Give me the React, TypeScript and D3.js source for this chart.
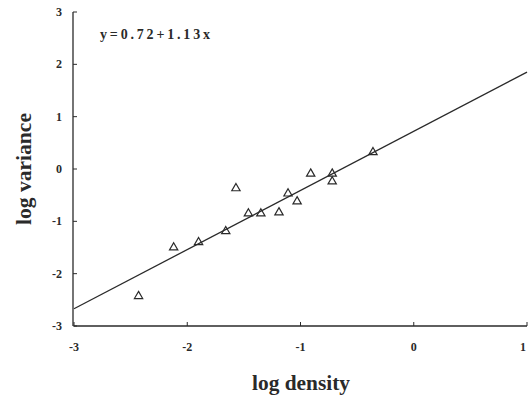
import React from "react";
import * as d3 from "d3";

const logDensity = [-2.43, -2.12, -1.9, -1.66, -1.57, -1.46, -1.35, -1.19, -1.11, -1.03, -0.91, -0.72, -0.72, -0.36];
const logVariance = [-2.43, -1.5, -1.4, -1.19, -0.37, -0.85, -0.85, -0.83, -0.47, -0.62, -0.09, -0.09, -0.24, 0.32];
const xTicks = [-3, -2, -1, 0, 1];
const yTicks = [-3, -2, -1, 0, 1, 2, 3];
const intercept = 0.72;
const slope = 1.13;
const equation = "y=0.72+1.13x";

export default function App() {
  const W = 528, H = 399;
  const x = d3.scaleLinear().domain([-3, 1]).range([74, 527]);
  const y = d3.scaleLinear().domain([-3, 3]).range([326, 12]);
  const ink = "#2a2a2a";
  const line = d3.line<number>().x((d) => x(d)).y((d) => y(intercept + slope * d));
  const tri = d3.symbol().type(d3.symbolTriangle).size(30)();
  const serif = "'Liberation Serif', 'DejaVu Serif', serif";
  return (
    <svg width={W} height={H} style={{ position: "absolute", left: 0, top: 0, background: "#fff" }}>
      {/* axes */}
      <line x1={x(-3)} x2={x(1)} y1={y(-3)} y2={y(-3)} stroke={ink} strokeWidth={1.3} />
      <line x1={x(-3) - 1} x2={x(-3) - 1} y1={y(-3)} y2={y(3)} stroke={ink} strokeWidth={1.3} />
      {xTicks.map((t) => (
        <g key={"x" + t}>
          <line x1={x(t)} x2={x(t)} y1={y(-3)} y2={y(-3) - 4} stroke={ink} strokeWidth={1} />
          <text x={Math.min(x(t), W - 5)} y={y(-3) + 25} textAnchor="middle" fontFamily={serif} fontWeight="bold" fontSize={12} fill={ink}>
            {t}
          </text>
        </g>
      ))}
      {yTicks.map((t) => (
        <g key={"y" + t}>
          <line x1={x(-3) - 1} x2={x(-3) + 3} y1={y(t)} y2={y(t)} stroke={ink} strokeWidth={1} />
          <text x={x(-3) - 12} y={y(t) + 4} textAnchor="end" fontFamily={serif} fontWeight="bold" fontSize={12} fill={ink}>
            {t}
          </text>
        </g>
      ))}
      {/* regression line */}
      <path d={line([-3, 1]) || ""} fill="none" stroke={ink} strokeWidth={1.3} />
      {/* points */}
      {logDensity.map((d, i) => (
        <path key={i} d={tri || ""} transform={`translate(${x(d)},${y(logVariance[i])})`} fill="none" stroke={ink} strokeWidth={1.2} />
      ))}
      <text x={100} y={39} fontFamily={serif} fontWeight="bold" fontSize={14} fill={ink} textLength={110} lengthAdjust="spacing">
        {equation}
      </text>
      <text x={252} y={390} fontFamily={serif} fontWeight="bold" fontSize={21} fill={ink} textLength={98} lengthAdjust="spacingAndGlyphs">
        log density
      </text>
      <text transform="translate(31,225) rotate(-90)" fontFamily={serif} fontWeight="bold" fontSize={22} fill={ink} textLength={112} lengthAdjust="spacingAndGlyphs">
        log variance
      </text>
    </svg>
  );
}
